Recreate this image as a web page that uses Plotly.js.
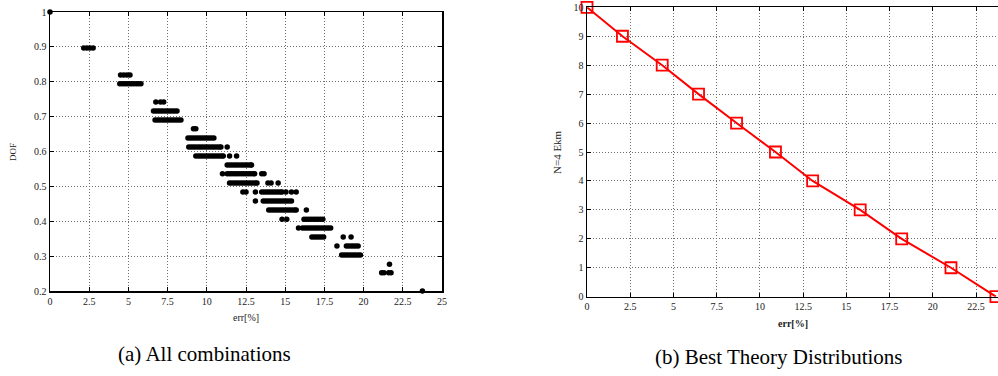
<!DOCTYPE html>
<html>
<head>
<meta charset="utf-8">
<script src="https://cdn.plot.ly/plotly-3.0.1.min.js"></script>
<style>html,body{margin:0;padding:0;background:#fff;}#chart{width:998px;height:376px;}</style>
</head>
<body>
<div id="chart"></div>
<script>
// (a) All combinations: DOF levels and the err[%] values found at each level
const dofLevels = [1.000, 0.897, 0.819, 0.794, 0.742, 0.716, 0.690, 0.665, 0.639, 0.613, 0.587, 0.561, 0.536, 0.510, 0.484, 0.458, 0.432, 0.406, 0.381, 0.355, 0.329, 0.303, 0.277, 0.252, 0.200];
const errAtLevel = [
  [0],
  [2.15, 2.35, 2.55, 2.75],
  [4.5, 4.7, 4.9, 5.1],
  [4.45, 4.6, 4.75, 4.9, 5.05, 5.2, 5.35, 5.5, 5.65, 5.8],
  [6.75, 7.05, 7.25],
  [6.6, 6.75, 6.9, 7.05, 7.2, 7.35, 7.5, 7.65, 7.8, 7.95, 8.1],
  [6.7, 6.85, 7.0, 7.15, 7.3, 7.45, 7.6, 7.75, 7.9, 8.05, 8.2, 8.35],
  [9.15, 9.3],
  [8.8, 8.95, 9.1, 9.25, 9.4, 9.55, 9.7, 9.85, 10.0, 10.15, 10.3, 10.45],
  [8.85, 9.0, 9.15, 9.3, 9.45, 9.6, 9.75, 9.9, 10.05, 10.2, 10.35, 10.5, 10.65, 10.8, 10.9, 11.3],
  [9.3, 9.45, 9.6, 9.75, 9.9, 10.05, 10.2, 10.35, 10.5, 10.65, 10.8, 10.95, 11.05, 11.45, 11.9],
  [11.3, 11.45, 11.6, 11.75, 11.9, 12.05, 12.2, 12.35, 12.5, 12.65, 12.8, 12.85],
  [11.0, 11.3, 11.45, 11.6, 11.75, 11.9, 12.05, 12.2, 12.35, 12.5, 12.65, 12.8, 12.95, 13.05, 13.5, 13.65],
  [11.45, 11.6, 11.75, 11.9, 12.05, 12.2, 12.35, 12.5, 12.65, 12.8, 12.95, 13.1, 13.2, 13.9, 14.1, 14.55],
  [12.3, 12.5, 13.1, 13.5, 13.65, 13.8, 13.95, 14.1, 14.25, 14.4, 14.55, 14.7, 14.8, 15.05, 15.4, 15.7],
  [13.1, 13.6, 13.75, 13.9, 14.05, 14.2, 14.35, 14.5, 14.65, 14.8, 14.95, 15.1, 15.25, 15.4],
  [13.95, 14.1, 14.25, 14.4, 14.55, 14.7, 14.85, 15.0, 15.15, 15.3, 15.45, 15.6, 15.7, 16.35],
  [14.8, 15.1, 16.2, 16.35, 16.5, 16.65, 16.8, 16.95, 17.1, 17.25, 17.4],
  [15.85, 16.1, 16.25, 16.4, 16.55, 16.7, 16.85, 17.0, 17.15, 17.3, 17.45, 17.6, 17.75, 17.9],
  [16.7, 16.85, 17.0, 17.15, 17.3, 17.45, 18.7, 19.2],
  [18.3, 18.9, 19.05, 19.2, 19.35, 19.5, 19.65],
  [18.6, 18.75, 18.9, 19.05, 19.2, 19.35, 19.5, 19.65, 19.8],
  [21.65],
  [21.15, 21.3, 21.6, 21.75],
  [23.75]
];

// (b) Best Theory Distributions
const bestErr = [0, 2.05, 4.35, 6.45, 8.65, 10.9, 13.05, 15.8, 18.2, 21.05, 23.65];
const bestN = [10, 9, 8, 7, 6, 5, 4, 3, 2, 1, 0];

// tick labels
const xTicksA = [0, 2.5, 5, 7.5, 10, 12.5, 15, 17.5, 20, 22.5, 25];
const xTickTextA = ["0", "2.5", "5", "7.5", "10", "12.5", "15", "17.5", "20", "22.5", "25"];
const yTicksA = [0.2, 0.3, 0.4, 0.5, 0.6, 0.7, 0.8, 0.9, 1];
const yTickTextA = ["0.2", "0.3", "0.4", "0.5", "0.6", "0.7", "0.8", "0.9", "1"];
const yTicksB = [0, 1, 2, 3, 4, 5, 6, 7, 8, 9, 10];

const W = 998, H = 376;
const px = v => v / W;
const py = v => 1 - v / H;

const allX = [], allY = [];
errAtLevel.forEach((row, i) => row.forEach(e => { allX.push(e); allY.push(dofLevels[i]); }));

const serif = "Liberation Serif, Times New Roman, serif";
const tickFont = {family: serif, size: 10, color: "#222"};

function axisBase(extra) {
  return Object.assign({
    showgrid: true, gridcolor: "#6e6e6e", griddash: "1px,2px", gridwidth: 1,
    showline: true, linecolor: "#000", linewidth: 1.5, mirror: "allticks",
    ticks: "inside", ticklen: 4, tickcolor: "#000", tickwidth: 1,
    zeroline: false, tickfont: tickFont, fixedrange: true
  }, extra);
}

const traces = [
  {
    type: "scatter", mode: "markers", x: allX, y: allY, xaxis: "x", yaxis: "y",
    marker: {color: "#000", size: 5.5}, cliponaxis: false, hoverinfo: "skip"
  },
  {
    type: "scatter", mode: "lines+markers", x: bestErr, y: bestN, xaxis: "x2", yaxis: "y2",
    line: {color: "#ff0000", width: 2},
    marker: {symbol: "square-open", size: 11, color: "#ff0000", line: {width: 1.8, color: "#ff0000"}},
    cliponaxis: false, hoverinfo: "skip"
  }
];

const layout = {
  width: W, height: H,
  margin: {l: 0, r: 0, t: 0, b: 0, pad: 0},
  paper_bgcolor: "#fff", plot_bgcolor: "#fff",
  showlegend: false,
  xaxis: axisBase({domain: [px(50), px(442)], range: [0, 25], tickvals: xTicksA, ticktext: xTickTextA, anchor: "y"}),
  yaxis: axisBase({domain: [py(291), py(12)], range: [0.2, 1], tickvals: yTicksA, ticktext: yTickTextA, anchor: "x"}),
  xaxis2: axisBase({domain: [px(587), 1], range: [0, 23.77], tickvals: xTicksA, ticktext: xTickTextA, anchor: "y2"}),
  yaxis2: axisBase({domain: [py(296.7), py(7.3)], range: [0, 10], tickvals: yTicksB, anchor: "x2", mirror: false}),
  annotations: [
    {text: "DOF", x: px(13), y: py(152), textangle: -90, font: {family: serif, size: 9, color: "#222"}},
    {text: "err[%]", x: px(246), y: py(317), font: {family: serif, size: 10, color: "#222"}},
    {text: "N=4 Ekm", x: px(557), y: py(152), textangle: -90, font: {family: serif, size: 11, color: "#222"}},
    {text: "<b>err[%]</b>", x: px(792.5), y: py(323), font: {family: serif, size: 10, color: "#222"}},
    {text: "(a) All combinations", x: px(204), y: py(354), font: {family: serif, size: 21, color: "#000"}},
    {text: "(b) Best Theory Distributions", x: px(779), y: py(357), font: {family: serif, size: 21, color: "#000"}}
  ].map(a => Object.assign({xref: "paper", yref: "paper", showarrow: false, xanchor: "center", yanchor: "middle"}, a))
};

Plotly.newPlot("chart", traces, layout, {staticPlot: true, displayModeBar: false});
</script>
</body>
</html>
